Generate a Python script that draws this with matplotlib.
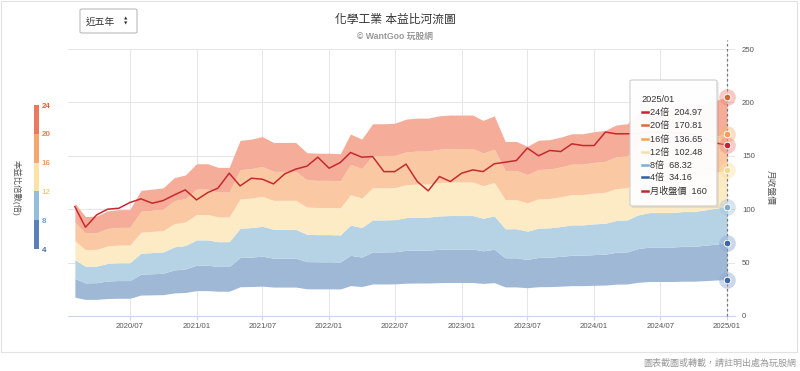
import matplotlib
matplotlib.use('Agg')
import numpy as np
import pandas as pd
import matplotlib.pyplot as plt
import matplotlib.dates as mdates
from matplotlib.patches import FancyBboxPatch, Rectangle
from matplotlib.lines import Line2D

plt.rcParams['font.family'] = ['Liberation Sans', 'Noto Sans CJK TC', 'DejaVu Sans']

# monthly data 2020/02 .. 2025/01
months = pd.date_range('2020-02-01', '2025-01-01', freq='MS')

# estimated EPS (band = multiple * eps)
eps = [4.40, 3.88, 3.90, 4.10, 4.15, 4.15, 4.90, 4.95, 5.00, 5.40, 5.50, 5.94,
       5.94, 5.80, 5.80, 6.85, 6.90, 7.00, 6.77, 6.77, 6.77, 6.37, 6.35, 6.35,
       6.33, 7.10, 6.90, 7.50, 7.50, 7.52, 7.68, 7.72, 7.72, 7.81, 7.84, 7.84,
       7.84, 7.63, 7.81, 6.81, 6.81, 6.62, 6.86, 6.88, 6.98, 7.11, 7.11, 7.19,
       7.24, 7.45, 7.50, 7.89, 8.07, 8.07, 8.07, 8.15, 8.15, 8.28, 8.41, 8.5404]

price = [102.4, 83.1, 94.7, 100.0, 100.9, 106.2, 109.7, 105.6, 108.1, 113.4, 118.1, 108.7,
         115.6, 119.7, 133.7, 121.8, 129.0, 128.1, 123.7, 133.1, 137.5, 140.3, 148.7, 138.4,
         143.7, 153.1, 148.7, 149.3, 135.2, 135.2, 142.2, 125.9, 117.2, 130.6, 125.9, 133.7,
         136.8, 135.2, 142.5, 144.0, 145.6, 157.2, 150.0, 155.0, 154.0, 161.2, 159.6, 159.6,
         172.2, 170.6, 170.6, 171.0, 172.0, 172.0, 171.5, 171.5, 170.0, 166.0, 162.0, 160.0]

multiples = [4, 8, 12, 16, 20, 24]
band_colors = ['#9fb8d6', '#b6d3e6', '#fdebc5', '#fac9a3', '#f5ac98']
bar_colors = ['#5a80ba', '#92bddf', '#fde3a3', '#f4a86e', '#e87a5d']
bar_label_colors = ['#3f6aa8', '#6f9fcf', '#f0cf86', '#eea060', '#e9804f', '#e0603f']

tip_labels = ['24倍', '20倍', '16倍', '12倍', '8倍', '4倍', '月收盤價']
tip_values = ['204.97', '170.81', '136.65', '102.48', '68.32', '34.16', '160']
tip_colors = ['#c0282d', '#e06a3a', '#f0a650', '#f6e0a8', '#7ab0d8', '#2f5f9e', '#c0282d']

dot_values = [204.97, 170.81, 160, 136.65, 102.48, 68.32, 34.16]
dot_colors = ['#d2683a', '#f0a050', '#c8202a', '#f5d98f', '#7fa9cf', '#3a68a8', '#3a68a8']
halo_colors = ['#f08a7a', '#f7b77a', '#f08a8a', '#fbe2a6', '#a9c4dc', '#8fa9cf', '#8fa9cf']

W, H = 800, 371


def fx(x):
    return x / W


def fy(y):
    return 1 - y / H


fig = plt.figure(figsize=(8, 3.71), dpi=100)

ax = fig.add_axes([fx(68), fy(316), fx(735) - fx(68), fy(49) - fy(316)])
eps_arr = np.array(eps)
for k in range(5):
    ax.fill_between(months, eps_arr * multiples[k], eps_arr * multiples[k + 1],
                    color=band_colors[k], lw=0)
ax.plot(months, price, color='#c62a2f', lw=1.1, zorder=4)

last = months[-1]
ax.plot([last, last], [0, 258], color='#777777', lw=0.9, ls=(0, (2, 2)),
        clip_on=False, zorder=5)
for v, c, hc in zip(dot_values, dot_colors, halo_colors):
    ax.plot(last, v, 'o', ms=12, color=hc, alpha=0.45, mew=0, zorder=6, clip_on=False)
    ax.plot(last, v, 'o', ms=4.8, color=c, mec='white', mew=0.7, zorder=7, clip_on=False)

ax.set_xlim(pd.Timestamp('2020-01-13'), pd.Timestamp('2025-01-23'))
ax.set_ylim(0, 250)
ax.set_xticks(pd.date_range('2020-07-01', '2025-01-01', freq='6MS'))
ax.xaxis.set_major_formatter(mdates.DateFormatter('%Y/%m'))
ax.set_yticks([0, 50, 100, 150, 200, 250])
ax.yaxis.tick_right()
ax.tick_params(axis='x', labelsize=5.6, colors='#555555', length=3, pad=2)
ax.tick_params(axis='x', color='#ccd6eb')
ax.tick_params(axis='y', labelsize=5.6, colors='#555555', length=0, pad=5)
ax.grid(color='#e6e6e6', lw=0.7)
ax.set_axisbelow(True)
for s in ['top', 'left', 'right']:
    ax.spines[s].set_visible(False)
ax.spines['bottom'].set_color('#ccd6eb')
ax.spines['bottom'].set_linewidth(0.8)

# colour bar on the left
axc = fig.add_axes([fx(34), fy(249), fx(39) - fx(34), fy(105) - fy(249)])
for k in range(5):
    axc.axhspan(multiples[k], multiples[k + 1], color=bar_colors[k], lw=0)
axc.set_xlim(0, 1)
axc.set_ylim(4, 24)
axc.set_xticks([])
axc.set_yticks(multiples)
axc.yaxis.tick_right()
axc.tick_params(axis='y', length=0, pad=2, labelsize=5.8)
for lab, c in zip(axc.get_yticklabels(), bar_label_colors):
    lab.set_color(c)
    lab.set_fontweight('bold')
for s in axc.spines.values():
    s.set_visible(False)

fig.text(fx(16), fy(188), '本益比倍數(倍)', rotation=270, ha='center', va='center',
         fontsize=6, color='#555555')
fig.text(fx(770), fy(187), '月收盤價', rotation=270, ha='center', va='center',
         fontsize=6.3, color='#555555')

# title
fig.text(fx(395), fy(20), '化學工業 本益比河流圖', ha='center', va='center',
         fontsize=8.5, color='#333333')
fig.text(fx(395), fy(36), '© WantGoo 玩股網', ha='center', va='center',
         fontsize=6.3, color='#999999', fontweight='bold')

# period dropdown
fig.patches.append(FancyBboxPatch((fx(80), fy(33)), fx(137) - fx(80), (33 - 9) / H,
                                  boxstyle='round,pad=0,rounding_size=0.003',
                                  fc='white', ec='#bbbbbb', lw=0.8,
                                  transform=fig.transFigure, figure=fig))
fig.text(fx(86), fy(21.5), '近五年', ha='left', va='center', fontsize=7, color='#333333')
fig.text(fx(126), fy(18.5), '▲', ha='center', va='center', fontsize=3.2,
         color='#333333', family='DejaVu Sans')
fig.text(fx(126), fy(23.5), '▼', ha='center', va='center', fontsize=3.2,
         color='#333333', family='DejaVu Sans')

# tooltip
fig.patches.append(Rectangle((fx(632), fy(208)), 87 / W, 126 / H, fc='black', alpha=0.07,
                             lw=0, transform=fig.transFigure, figure=fig))
fig.patches.append(FancyBboxPatch((fx(630), fy(206)), 87 / W, 126 / H,
                                  boxstyle='round,pad=0,rounding_size=0.003',
                                  fc='white', ec='#cccccc', lw=0.8, alpha=0.96,
                                  transform=fig.transFigure, figure=fig))
fig.text(fx(641), fy(100), '2025/01', ha='left', va='center', fontsize=6.6, color='#333333')
row_y = [112, 125, 139, 152, 165, 177, 191]
for yy, lab, val, c in zip(row_y, tip_labels, tip_values, tip_colors):
    fig.lines.append(Line2D([fx(641.5), fx(647.5)], [fy(yy), fy(yy)], lw=1.8, color=c,
                            transform=fig.transFigure, figure=fig))
    fig.text(fx(650), fy(yy), lab + '  ' + val, ha='left', va='center',
             fontsize=6.6, color='#333333')

# outer frame and footer note
fig.patches.append(Rectangle((fx(1), fy(352)), fx(797) - fx(1), (352 - 1) / H, fill=False,
                             ec='#e2e2e2', lw=0.8, transform=fig.transFigure, figure=fig))
fig.text(fx(796), fy(363), '圖表截圖或轉載，請註明出處為玩股網', ha='right', va='center',
         fontsize=6.5, color='#999999')

fig.savefig('out.png', dpi=100)
